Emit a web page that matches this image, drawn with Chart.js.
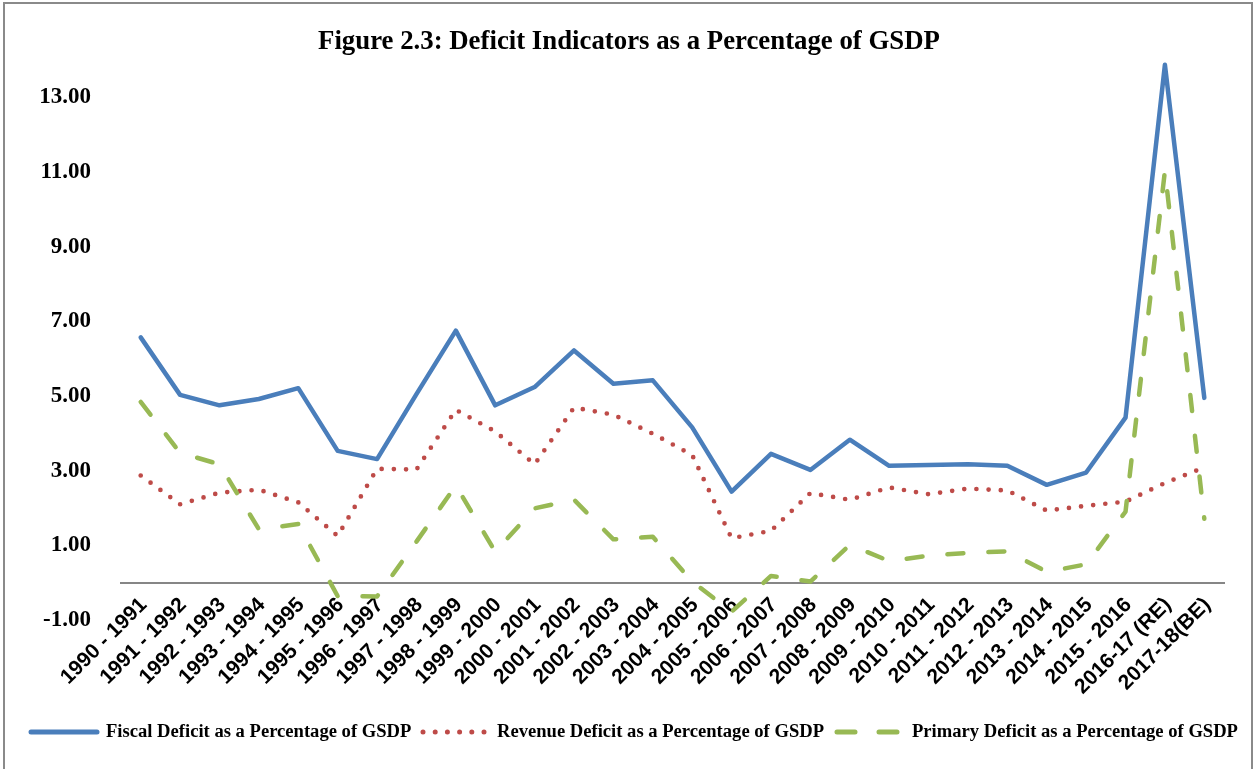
<!DOCTYPE html>
<html>
<head>
<meta charset="utf-8">
<title>Deficit Indicators</title>
<script src="https://cdn.jsdelivr.net/npm/chart.js@4.4.1/dist/chart.umd.min.js"></script>
<style>
  html, body { margin: 0; padding: 0; background: #fff; overflow: hidden; }
  #wrap { position: relative; width: 1255px; height: 769px; overflow: hidden; }
  #frame { position: absolute; left: 3px; top: 2px; width: 1250px; height: 800px; border: 2px solid #8a8a8a; box-sizing: border-box; }
  #title { position: absolute; left: 0; width: 1258px; top: 25px; line-height: 30px; text-align: center;
           font: bold 26.8px "Liberation Serif", "Times New Roman", serif; color: #000; }
  canvas { position: absolute; left: 0; top: 0; }
  .leg { position: absolute; top: 720px; line-height: 24px; white-space: nowrap;
         font: bold 18.6px "Liberation Serif", "Times New Roman", serif; color: #000; }
  #legsvg { position: absolute; left: 0; top: 722px; }
</style>
</head>
<body>
<div id="wrap">
  <div id="frame"></div>
  <canvas id="myChart" width="1255" height="769"></canvas>
  <div id="title">Figure 2.3: Deficit Indicators as a Percentage of GSDP</div>
  <svg id="legsvg" width="1255" height="20">
    <line x1="31" y1="10" x2="97" y2="10" stroke="#4a7ebb" stroke-width="5" stroke-linecap="round"/>
    <line x1="423" y1="10" x2="484" y2="10" stroke="#be4b48" stroke-width="5" stroke-linecap="round" stroke-dasharray="0 12.2"/>
    <line x1="837" y1="10" x2="897" y2="10" stroke="#98b954" stroke-width="5" stroke-linecap="round" stroke-dasharray="18 24"/>
  </svg>
  <div class="leg" style="left:106px">Fiscal Deficit as a Percentage of GSDP</div>
  <div class="leg" style="left:497px">Revenue Deficit as a Percentage of GSDP</div>
  <div class="leg" style="left:912px">Primary Deficit as a Percentage of GSDP</div>
</div>
<script>
// years on the x axis
var categories = ['1990 - 1991', '1991 - 1992', '1992 - 1993', '1993 - 1994', '1994 - 1995',
  '1995 - 1996', '1996 - 1997', '1997 - 1998', '1998 - 1999', '1999 - 2000', '2000 - 2001',
  '2001 - 2002', '2002 - 2003', '2003 - 2004', '2004 - 2005', '2005 - 2006', '2006 - 2007',
  '2007 - 2008', '2008 - 2009', '2009 - 2010', '2010 - 2011', '2011 - 2012', '2012 - 2013',
  '2013 - 2014', '2014 - 2015', '2015 - 2016', '2016-17 (RE)', '2017-18(BE)'];

// values (% of GSDP)
var fiscalDeficit = [6.57, 5.03, 4.75, 4.92, 5.21, 3.53, 3.31, 5.05, 6.75, 4.75, 5.24,
  6.22, 5.33, 5.42, 4.16, 2.44, 3.45, 3.02, 3.83, 3.13, 3.15, 3.17, 3.13,
  2.62, 2.95, 4.42, 13.87, 4.95];
var revenueDeficit = [2.87, 2.10, 2.41, 2.49, 2.15, 1.25, 3.05, 3.03, 4.63, 4.05, 3.17,
  4.69, 4.50, 3.99, 3.42, 1.19, 1.39, 2.40, 2.22, 2.55, 2.37, 2.52, 2.47,
  1.93, 2.06, 2.17, 2.67, 3.09];
var primaryDeficit = [4.84, 3.48, 3.17, 1.43, 1.57, -0.36, -0.37, 1.10, 2.60, 0.83, 1.99,
  2.22, 1.16, 1.23, 0.03, -0.78, 0.18, 0.03, 1.01, 0.58, 0.72, 0.80, 0.84,
  0.29, 0.49, 1.90, 11.03, 1.71];

var seriesNames = ['Fiscal Deficit as a Percentage of GSDP',
  'Revenue Deficit as a Percentage of GSDP',
  'Primary Deficit as a Percentage of GSDP'];

var yTickValues = [-1, 1, 3, 5, 7, 9, 11, 13];
var yMin = -1;
var yMax = 14;

var ctx = document.getElementById('myChart').getContext('2d');
var myChart = new Chart(ctx, {
  type: 'line',
  data: {
    labels: categories,
    datasets: [{
      label: seriesNames[0],
      data: fiscalDeficit,
      borderColor: '#4a7ebb',
      borderWidth: 4.5,
      borderCapStyle: 'round',
      borderJoinStyle: 'round',
      pointRadius: 0,
      tension: 0,
      fill: false,
      order: 3
    }, {
      label: seriesNames[1],
      data: revenueDeficit,
      borderColor: '#be4b48',
      borderWidth: 4.7,
      borderDash: [0, 12.2],
      borderCapStyle: 'round',
      borderJoinStyle: 'round',
      pointRadius: 0,
      tension: 0,
      fill: false,
      order: 2
    }, {
      label: seriesNames[2],
      data: primaryDeficit,
      borderColor: '#98b954',
      borderWidth: 4.5,
      borderDash: [16, 25],
      borderCapStyle: 'round',
      borderJoinStyle: 'round',
      pointRadius: 0,
      tension: 0,
      fill: false,
      order: 1
    }]
  },
  options: {
    responsive: false,
    animation: false,
    layout: { padding: { left: 0, top: 60, right: 31, bottom: 149 } },
    plugins: {
      legend: { display: false },
      title: { display: false },
      tooltip: { enabled: false }
    },
    scales: {
      x: {
        type: 'category',
        offset: true,
        position: { y: 0 },
        grid: { display: true, drawOnChartArea: false, drawTicks: false },
        border: { display: true, color: '#868686', width: 2 },
        ticks: {
          autoSkip: false,
          maxRotation: 45,
          minRotation: 45,
          padding: 10,
          labelOffset: 3,
          color: '#000',
          font: { family: '"Liberation Sans", Arial, sans-serif', size: 21, weight: 'bold' }
        }
      },
      y: {
        min: yMin,
        max: yMax,
        grid: { display: false },
        border: { display: false },
        afterBuildTicks: function(scale) {
          scale.ticks = yTickValues.map(function(v) { return { value: v }; });
        },
        afterFit: function(scale) {
          scale.width = 121;
        },
        ticks: {
          padding: 22,
          color: '#000',
          font: { family: '"Liberation Serif", "Times New Roman", serif', size: 23, weight: 'bold' },
          callback: function(v) { return Number(v).toFixed(2); }
        }
      }
    }
  }
});
</script>
</body>
</html>
